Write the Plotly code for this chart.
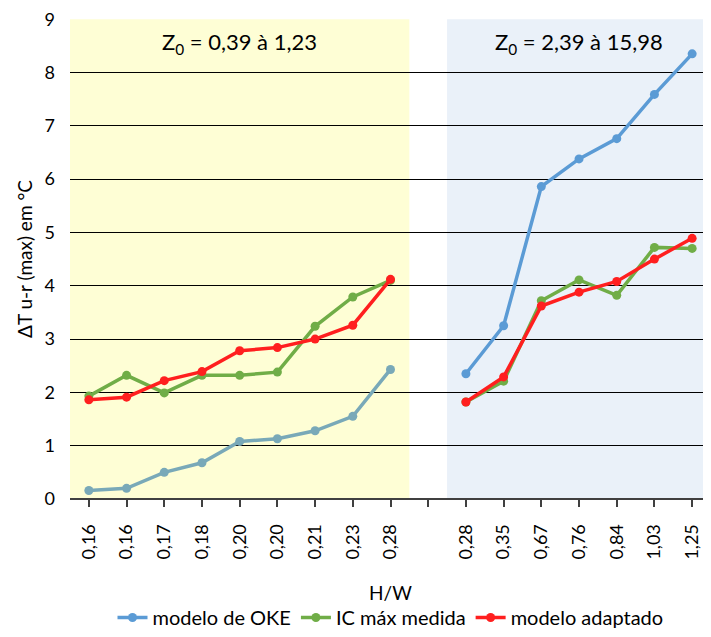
import plotly.graph_objects as go

tick_labels = ["0,16", "0,16", "0,17", "0,18", "0,20", "0,20", "0,21", "0,23", "0,28",
               "",
               "0,28", "0,35", "0,67", "0,76", "0,84", "1,03", "1,25"]

oke_left = [0.16, 0.20, 0.50, 0.68, 1.08, 1.13, 1.28, 1.55, 2.43]
ic_left = [1.93, 2.32, 1.99, 2.32, 2.32, 2.38, 3.24, 3.79, 4.10]
adapt_left = [1.86, 1.91, 2.22, 2.39, 2.78, 2.84, 3.00, 3.26, 4.12]

oke_right = [2.35, 3.25, 5.86, 6.38, 6.76, 7.59, 8.35]
ic_right = [1.82, 2.21, 3.72, 4.11, 3.82, 4.72, 4.70]
adapt_right = [1.82, 2.29, 3.62, 3.88, 4.08, 4.50, 4.89]

x_all = list(range(len(tick_labels)))
gap = 9
x_left = x_all[:gap]

def pad(left, right):
    return left + [None] + right

FONT = "Lato, 'Open Sans', sans-serif"
C_OKE = "#5B9BD5"
C_OKE_L = "#79A9B8"
C_IC = "#70AD47"
C_AD = "#FF1F1F"

fig = go.Figure()
fig.add_trace(go.Scatter(x=x_all, y=pad([None] * gap, oke_right), mode="lines+markers",
                         name="modelo de OKE", line=dict(color=C_OKE, width=3.5),
                         marker=dict(size=9, color=C_OKE), connectgaps=False))
fig.add_trace(go.Scatter(x=x_left, y=oke_left, mode="lines+markers", showlegend=False,
                         line=dict(color=C_OKE_L, width=3.5), marker=dict(size=9, color=C_OKE_L)))
fig.add_trace(go.Scatter(x=x_all, y=pad(ic_left, ic_right), mode="lines+markers",
                         name="IC máx medida", line=dict(color=C_IC, width=3.5),
                         marker=dict(size=9, color=C_IC), connectgaps=False))
fig.add_trace(go.Scatter(x=x_all, y=pad(adapt_left, adapt_right), mode="lines+markers",
                         name="modelo adaptado", line=dict(color=C_AD, width=3.5),
                         marker=dict(size=9, color=C_AD), connectgaps=False))

fig.add_shape(type="rect", xref="x", yref="y", x0=-0.5, x1=gap - 0.5, y0=0, y1=9,
              fillcolor="#FEFED5", line=dict(width=0), layer="below")
fig.add_shape(type="rect", xref="x", yref="y", x0=gap + 0.5, x1=len(tick_labels) - 0.5, y0=0, y1=9,
              fillcolor="#EAF1F9", line=dict(width=0), layer="below")

fig.add_annotation(x=(gap - 1) / 2, y=8.55, xref="x", yref="y", yanchor="middle",
                   text="Z<sub>0</sub> = 0,39 à 1,23", showarrow=False,
                   font=dict(size=22, color="#000000", family=FONT))
fig.add_annotation(x=(gap + 1 + len(tick_labels) - 1) / 2, y=8.55, xref="x", yref="y", yanchor="middle",
                   text="Z<sub>0</sub> = 2,39 à 15,98", showarrow=False,
                   font=dict(size=22, color="#000000", family=FONT))

fig.update_layout(
    width=703, height=629,
    margin=dict(l=62, r=0, t=11, b=138),
    paper_bgcolor="white", plot_bgcolor="white",
    font=dict(family=FONT, size=17, color="#000000"),
    showlegend=True,
    legend=dict(orientation="h", x=0.50, xanchor="center", y=-0.2875, yanchor="bottom",
                font=dict(size=20), itemwidth=30, traceorder="normal"),
    xaxis=dict(range=[-0.5, len(tick_labels) - 0.5], tickmode="array", tickvals=x_all,
               ticktext=tick_labels, tickangle=-90, ticks="outside", ticklen=7,
               tickcolor="#404040", tickwidth=1.5, showgrid=False, zeroline=False,
               showline=False, tickfont=dict(size=18), automargin=False,
               ticklabelstandoff=10, ticklabeloverflow="allow",
               title=dict(text="H/W", font=dict(size=19), standoff=28)),
    yaxis=dict(range=[0, 9.004], tickmode="array", tickvals=list(range(10)),
               showgrid=True, gridcolor="#000000", gridwidth=1,
               zeroline=True, zerolinecolor="#404040", zerolinewidth=2, showline=False,
               ticks="", tickfont=dict(size=18), ticklabelstandoff=14, automargin=False,
               ticklabeloverflow="allow",
               title=dict(text="ΔT u-r (max) em °C", font=dict(size=19), standoff=6)),
)

fig.write_html("out.html", config={"displayModeBar": False})
